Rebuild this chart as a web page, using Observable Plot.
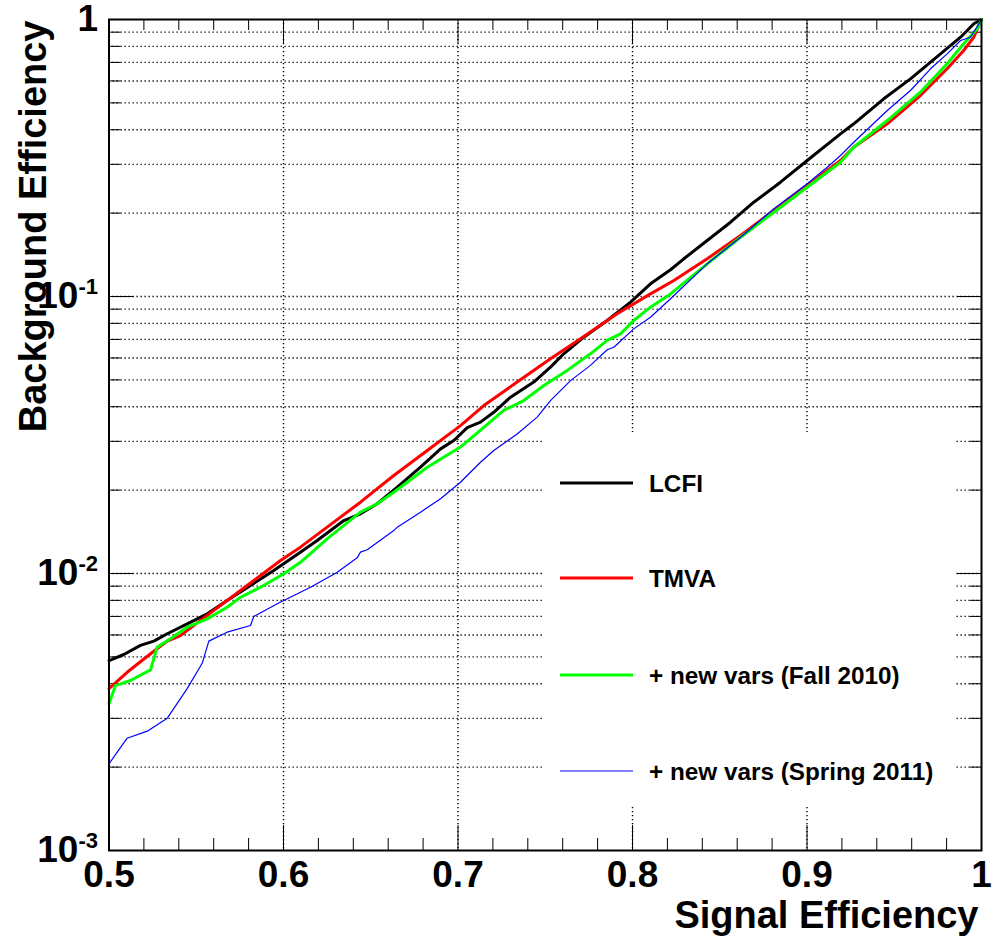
<!DOCTYPE html>
<html><head><meta charset="utf-8">
<script src="https://cdn.jsdelivr.net/npm/d3@7"></script>
<script src="https://cdn.jsdelivr.net/npm/@observablehq/plot@0.6"></script>
<style>
html,body{margin:0;padding:0;background:#fff;}
#wrap{position:relative;width:994px;height:937px;font-family:"Liberation Sans",Arial,Helvetica,sans-serif;}
</style>
</head><body>
<div id="wrap"></div>
<script>
// ---- data ----
const seriesNames  = ["LCFI", "TMVA", "+ new vars (Fall 2010)", "+ new vars (Spring 2011)"];
const seriesColors = ["#000000", "#ff0000", "#00ff00", "#0000ff"];
const seriesWidths = [3, 3, 3, 1.2];

const lcfiS = [0.500,0.5085,0.518,0.5257,0.5334,0.5448,0.5563,0.5677,0.5811,0.5944,0.6097,0.6193,0.6346,0.6441,0.6537,0.6652,0.6785,0.6900,0.6976,0.7053,0.7129,0.7205,0.7301,0.7434,0.7530,0.7606,0.7721,0.7855,0.7989,0.8103,0.8218,0.8294,0.8428,0.8562,0.8695,0.8848,0.9001,0.9192,0.9268,0.9440,0.9593,0.9765,0.9880,0.9956,1.0];
const lcfiB = [0.00485,0.00510,0.00550,0.00570,0.00606,0.00658,0.00715,0.00799,0.00905,0.01026,0.01194,0.01316,0.01553,0.01643,0.01786,0.02049,0.02420,0.02818,0.0302,0.0336,0.0352,0.0382,0.0433,0.0491,0.0556,0.0621,0.0713,0.0819,0.0954,0.1111,0.1249,0.1368,0.1593,0.1854,0.2190,0.2586,0.3097,0.3866,0.4202,0.5172,0.6107,0.7518,0.8632,0.965,1.0];

const tmvaS = [0.500,0.5104,0.5238,0.5334,0.5410,0.5524,0.5677,0.5830,0.5983,0.6097,0.6250,0.6441,0.6632,0.6824,0.7014,0.7148,0.7339,0.7530,0.7721,0.7912,0.8103,0.8237,0.8428,0.8619,0.8810,0.9001,0.9192,0.9268,0.9460,0.9650,0.9803,0.9898,0.9956,1.0];
const tmvaB = [0.00384,0.00440,0.00513,0.00570,0.00597,0.00677,0.00799,0.00944,0.01114,0.01245,0.01470,0.01809,0.02259,0.0278,0.0342,0.0404,0.0491,0.0596,0.0717,0.0866,0.1022,0.1142,0.1368,0.1661,0.2044,0.2517,0.3097,0.3459,0.4202,0.5316,0.6637,0.7728,0.863,1.0];

const fallS = [0.500,0.5037,0.5123,0.5238,0.5276,0.5352,0.5448,0.5563,0.5677,0.5754,0.5868,0.6002,0.6097,0.6250,0.6441,0.6537,0.6632,0.6824,0.7014,0.7148,0.7262,0.7377,0.7492,0.7626,0.7759,0.7855,0.7931,0.8007,0.8103,0.8218,0.8428,0.8619,0.8810,0.9001,0.9192,0.9268,0.9460,0.9650,0.9803,0.9898,0.9975,1.0];
const fallB = [0.00339,0.00394,0.00411,0.00449,0.00542,0.00581,0.00640,0.00686,0.00755,0.00821,0.00892,0.00998,0.01098,0.01334,0.01665,0.01786,0.01965,0.0242,0.0286,0.0337,0.0388,0.0421,0.0477,0.0541,0.0621,0.0694,0.0733,0.0819,0.0915,0.1022,0.1312,0.1637,0.2015,0.2481,0.3053,0.3459,0.4318,0.5465,0.6918,0.817,0.926,1.0];

const springS = [0.500,0.5047,0.5104,0.5219,0.5334,0.5448,0.5534,0.5572,0.5677,0.5811,0.5830,0.5964,0.6097,0.6155,0.6308,0.6422,0.6441,0.6480,0.6632,0.6652,0.6785,0.6900,0.7014,0.7129,0.7205,0.7339,0.7454,0.7530,0.7645,0.7759,0.7855,0.7893,0.8007,0.8103,0.8218,0.8428,0.8619,0.8810,0.9001,0.9116,0.9192,0.9268,0.9460,0.9593,0.9708,0.9803,0.9880,0.9937,1.0];
const springB = [0.002056,0.002265,0.002543,0.002697,0.003005,0.00384,0.00474,0.00570,0.00614,0.00649,0.00700,0.00778,0.00856,0.00892,0.01011,0.01139,0.01194,0.01218,0.01429,0.01470,0.01665,0.01862,0.02136,0.02522,0.0278,0.0319,0.0367,0.0421,0.0497,0.0564,0.0642,0.0656,0.0764,0.0842,0.0981,0.1312,0.1637,0.2073,0.2553,0.2929,0.3228,0.3606,0.4693,0.5543,0.6637,0.7518,0.8398,0.863,1.0];

// tick values
const xMajor = [0.5, 0.6, 0.7, 0.8, 0.9, 1];
const xMinor = d3.range(26, 50).filter(i => i % 5 !== 0).map(i => i / 50);
const xGrid = [0.6, 0.7, 0.8, 0.9];
const yMajor = [0.001, 0.01, 0.1, 1];
const yMinor = [0.001, 0.01, 0.1].flatMap(d => [2,3,4,5,6,7,8,9].map(k => +(k * d).toPrecision(3)));
const yGrid = [0.01, 0.1, ...yMinor];

const xTitle = "Signal Efficiency";
const yTitle = "Background Efficiency";

// ---- build table ----
const sArrays = [lcfiS, tmvaS, fallS, springS];
const bArrays = [lcfiB, tmvaB, fallB, springB];
const curves = seriesNames.map((name, k) => sArrays[k].map((s, i) => ({name, s, b: bArrays[k][i]})));

// ---- layout ----
const W = 994, H = 937, mL = 108.5, mR = 13, mT = 19, mB = 87;
const innerW = W - mL - mR, innerH = H - mT - mB;
const dotted = {stroke: "black", strokeWidth: 1.4, strokeDasharray: "1.3,2.7"};

const chart = Plot.plot({
  width: W, height: H,
  marginLeft: mL, marginRight: mR, marginTop: mT, marginBottom: mB,
  style: {fontFamily: "'Liberation Sans', Arial, Helvetica, sans-serif", fontWeight: "bold", fontSize: "37px", background: "white", color: "black", overflow: "visible"},
  x: {domain: [0.5, 1], ticks: xMajor, tickSize: 0, tickPadding: 10, tickFormat: d => d === 1 ? "1" : d.toFixed(1), label: null},
  y: {type: "log", domain: [0.001, 1], ticks: yMajor, tickSize: 0, tickPadding: 11,
      tickFormat: d => d === 1 ? "1" : "10^" + Math.round(Math.log10(d)), label: null},
  marks: [
    Plot.ruleY(yGrid, {y: d => d, ...dotted}),
    Plot.ruleX(xGrid, {x: d => d, ...dotted}),
    // inward tick marks on all four sides
    Plot.ruleX(xMajor, {x: d => d, insetTop: innerH - 25, stroke: "black"}),
    Plot.ruleX(xMinor, {x: d => d, insetTop: innerH - 12, stroke: "black"}),
    Plot.ruleX(xMajor, {x: d => d, insetBottom: innerH - 24, stroke: "black"}),
    Plot.ruleX(xMinor, {x: d => d, insetBottom: innerH - 11, stroke: "black"}),
    Plot.ruleY(yMajor, {y: d => d, insetRight: innerW - 25, stroke: "black"}),
    Plot.ruleY(yMinor, {y: d => d, insetRight: innerW - 12, stroke: "black"}),
    Plot.ruleY(yMajor, {y: d => d, insetLeft: innerW - 24, stroke: "black"}),
    Plot.ruleY(yMinor, {y: d => d, insetLeft: innerW - 11, stroke: "black"}),
    ...curves.map((c, k) => Plot.line(c, {x: "s", y: "b", stroke: seriesColors[k], strokeWidth: seriesWidths[k], strokeLinejoin: "round"})),
    Plot.frame({stroke: "black", strokeWidth: 2}),
    Plot.text([xTitle], {text: d => d, frameAnchor: "bottom-right", textAnchor: "end", lineAnchor: "bottom", dx: -3, dy: 77, fontSize: 38, fontWeight: "bold"}),
    Plot.text([yTitle], {text: d => d, frameAnchor: "top-left", textAnchor: "end", lineAnchor: "bottom", rotate: -90, dx: 45 - mL, dy: 1, fontSize: 38, fontWeight: "bold"})
  ]
});

// superscript exponents in y tick labels
const NS = "http://www.w3.org/2000/svg";
chart.querySelectorAll("text").forEach(t => {
  const m = t.textContent.match(/^10\^(.+)$/);
  if (!m) return;
  t.textContent = "";
  const a = document.createElementNS(NS, "tspan"); a.textContent = "10"; t.appendChild(a);
  const b = document.createElementNS(NS, "tspan"); b.textContent = m[1];
  b.setAttribute("dy", "-14"); b.setAttribute("font-size", "22"); t.appendChild(b);
});

const wrap = document.getElementById("wrap");
chart.style.position = "absolute";
chart.style.left = "0px";
chart.style.top = "0px";
wrap.appendChild(chart);

// ---- legend (white box over the grid) ----
const rowY = [51, 146, 243, 339];
const leg = d3.select(wrap).append("svg").attr("width", 412).attr("height", 373)
  .style("position", "absolute").style("left", "543px").style("top", "432px")
  .style("font-family", "'Liberation Sans', Arial, Helvetica, sans-serif");
leg.append("rect").attr("width", 412).attr("height", 373).attr("fill", "white");
const rows = leg.selectAll("g").data(seriesNames).join("g").attr("transform", (d, i) => `translate(0,${rowY[i]})`);
rows.append("line").attr("x1", 17).attr("x2", 90).attr("y1", 0).attr("y2", 0)
  .attr("stroke", (d, i) => seriesColors[i]).attr("stroke-width", (d, i) => seriesWidths[i]);
rows.append("text").attr("x", 106).attr("y", 8.6).attr("font-size", 24.3).attr("font-weight", "bold").text(d => d);
</script>
</body></html>
